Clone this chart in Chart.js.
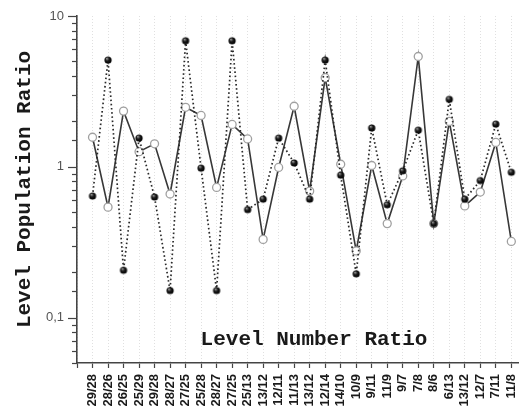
<!DOCTYPE html>
<html>
<head>
<meta charset="utf-8">
<script src="https://cdn.jsdelivr.net/npm/chart.js@4/dist/chart.umd.min.js"></script>
<style>
  html, body { margin: 0; padding: 0; background: #fff; }
  #wrap { width: 524px; height: 411px; position: relative; }
</style>
</head>
<body>
<div id="wrap"><canvas id="c" width="524" height="411"></canvas></div>
<script>
// Level pair labels along the horizontal axis
const categories = ['29/28','28/26','26/25','25/29','29/28','28/27','27/25','25/28','28/27','27/25',
  '25/13','13/12','12/11','11/13','13/12','12/14','14/10','10/9','9/11','11/9',
  '9/7','7/8','8/6','6/13','13/12','12/7','7/11','11/8'];

// Population ratios, filled markers (dotted line)
const filledSeries = [0.64, 5.1, 0.206, 1.55, 0.63, 0.151, 6.85, 0.98, 0.151, 6.85,
  0.52, 0.61, 1.55, 1.06, 0.61, 5.1, 0.88, 0.195, 1.81, 0.56,
  0.94, 1.75, 0.42, 2.8, 0.61, 0.81, 1.92, 0.92];

// Population ratios, open markers (solid line)
const openSeries = [1.57, 0.54, 2.34, 1.26, 1.42, 0.66, 2.48, 2.19, 0.73, 1.91,
  1.53, 0.33, 0.99, 2.52, 0.69, 3.9, 1.04, 0.277, 1.02, 0.42,
  0.87, 5.39, 0.42, 2.0, 0.55, 0.68, 1.45, 0.32];

// Labelled decades on the log axis
const yTickLabels = { '0.1': '0,1', '1': '1', '10': '10' };

const toPoints = arr => arr.map((v, i) => ({ x: i + 1, y: v }));

// Shaded sphere marker for the filled series
function makeSphere(r) {
  const s = Math.ceil(r * 2 + 2);
  const cv = document.createElement('canvas');
  cv.width = s; cv.height = s;
  const g = cv.getContext('2d');
  const c = s / 2;
  const grad = g.createRadialGradient(c - r * 0.35, c - r * 0.45, r * 0.1, c, c, r);
  grad.addColorStop(0, '#9a9a9a');
  grad.addColorStop(0.45, '#1a1a1a');
  grad.addColorStop(1, '#000');
  g.fillStyle = grad;
  g.beginPath(); g.arc(c, c, r, 0, Math.PI * 2); g.fill();
  return cv;
}
const sphere = makeSphere(3.6);

// Minor/major tick marks on the log axis, plus the in-plot axis caption
const decor = {
  id: 'decor',
  afterDraw(chart) {
    const ctx = chart.ctx;
    const ys = chart.scales.y;
    ctx.save();
    ctx.strokeStyle = '#444';
    ctx.lineWidth = 1.2;
    ys.ticks.forEach(t => {
      const lg = Math.log10(t.value);
      const major = Math.abs(lg - Math.round(lg)) < 1e-9;
      const py = Math.round(ys.getPixelForValue(t.value)) + 0.5;
      const len = major ? 9 : 5;
      ctx.beginPath();
      ctx.moveTo(ys.right, py);
      ctx.lineTo(ys.right - len, py);
      ctx.stroke();
    });
    const area = chart.chartArea;
    ctx.fillStyle = '#1a1a1a';
    ctx.font = 'bold 21px "Liberation Mono", "Courier New", monospace';
    ctx.textAlign = 'center';
    ctx.textBaseline = 'alphabetic';
    ctx.fillText('Level Number Ratio', area.left + 237, area.bottom - 18);
    ctx.restore();
  }
};

new Chart(document.getElementById('c'), {
  type: 'line',
  data: {
    datasets: [
      {
        label: 'filled',
        data: toPoints(filledSeries),
        borderColor: '#2a2a2a',
        borderWidth: 1.7,
        borderDash: [1.6, 2.6],
        pointStyle: sphere,
        pointRadius: 3.6,
        tension: 0,
        fill: false
      },
      {
        label: 'open',
        data: toPoints(openSeries),
        borderColor: '#383838',
        borderWidth: 1.6,
        pointStyle: 'circle',
        pointRadius: 4,
        pointBackgroundColor: '#ffffff',
        pointBorderColor: '#a0a0a0',
        pointBorderWidth: 1.3,
        tension: 0,
        fill: false
      }
    ]
  },
  options: {
    responsive: false,
    animation: false,
    events: [],
    layout: { padding: { top: 16, right: 0, left: 0, bottom: 0 } },
    plugins: { legend: { display: false }, tooltip: { enabled: false } },
    scales: {
      x: {
        type: 'linear',
        min: 0,
        max: 28.45,
        afterFit(s) { s.height = 48; s.paddingLeft = 0; s.paddingRight = 0; },
        ticks: {
          stepSize: 1,
          includeBounds: false,
          autoSkip: false,
          minRotation: 90,
          maxRotation: 90,
          padding: 6,
          color: '#1a1a1a',
          font: { family: '"Liberation Sans", Arial, sans-serif', size: 13, weight: 'bold' },
          callback: v => (v >= 1 && v <= categories.length && Number.isInteger(v)) ? categories[v - 1] : ''
        },
        grid: {
          display: true,
          drawOnChartArea: true,
          drawTicks: true,
          tickLength: 5,
          color: '#e0e0e0',
          lineWidth: 1,
          tickColor: '#444',
          tickWidth: 1.2,
          tickBorderDash: []
        },
        border: { display: true, color: '#444', width: 1.6, dash: [1, 2] }
      },
      y: {
        type: 'logarithmic',
        min: 0.05,
        max: 10,
        afterFit(s) { s.width = 77; s.paddingTop = 0; s.paddingBottom = 0; },
        ticks: {
          autoSkip: false,
          padding: 13,
          color: '#555',
          font: { family: '"Liberation Sans", Arial, sans-serif', size: 13 },
          callback: v => {
            const k = String(+v.toPrecision(6));
            return yTickLabels[k] !== undefined ? yTickLabels[k] : '';
          }
        },
        grid: { display: true, drawOnChartArea: false, drawTicks: false },
        border: { display: true, color: '#444', width: 1.6 },
        title: {
          display: true,
          text: 'Level Population Ratio',
          color: '#1a1a1a',
          padding: { top: 12, bottom: 0 },
          font: { family: '"Liberation Mono", "Courier New", monospace', size: 21, weight: 'bold' }
        }
      }
    }
  },
  plugins: [decor]
});
</script>
</body>
</html>
